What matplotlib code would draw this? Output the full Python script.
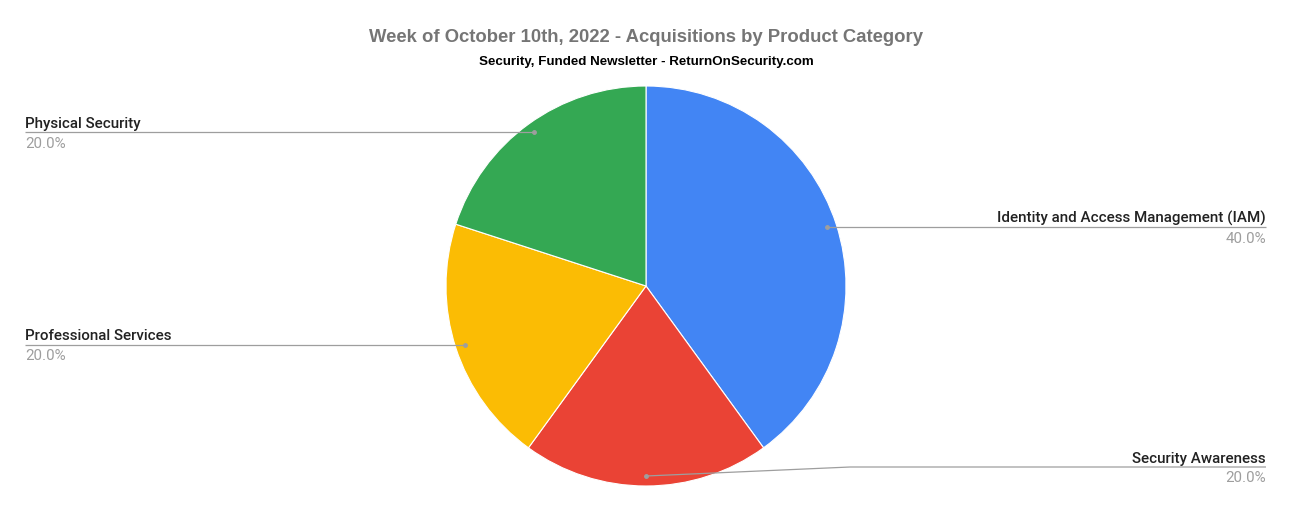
import matplotlib.pyplot as plt
import numpy as np

# data
categories = ['Identity and Access Management (IAM)', 'Security Awareness',
              'Professional Services', 'Physical Security']
counts = [2, 1, 1, 1]
colors = ['#4285F4', '#EA4335', '#FBBC04', '#34A853']

W, H = 1292, 512
cx, cy, R = 646, H - 286, 200

fig = plt.figure(figsize=(W / 100, H / 100), dpi=100)
ax = fig.add_axes([0, 0, 1, 1])

wedges, _ = ax.pie(counts, colors=colors, startangle=90, counterclock=False,
                   center=(cx, cy), radius=R, frame=True,
                   wedgeprops=dict(linewidth=0.8, edgecolor='white'))
ax.set_xlim(0, W)
ax.set_ylim(0, H)
ax.set_aspect('equal')
ax.axis('off')

fig.text(0.5, 1 - 38 / H, 'Week of October 10th, 2022 - Acquisitions by Product Category',
         ha='center', va='center', fontsize=13.3, fontweight='bold',
         color='#757575', family='Liberation Sans')
fig.text(0.5, 1 - 62.5 / H, 'Security, Funded Newsletter - ReturnOnSecurity.com',
         ha='center', va='center', fontsize=9.6, fontweight='bold',
         color='#000000', family='Liberation Sans')

total = sum(counts)
left_x, right_x = 25, 1266
for w, name, n in zip(wedges, categories, counts):
    mid = np.deg2rad((w.theta1 + w.theta2) / 2)
    dx, dy = cx + 0.95 * R * np.cos(mid), cy + 0.95 * R * np.sin(mid)
    if np.cos(mid) < -0.1:
        xs, ys = [dx, left_x], [dy, dy]
        tx, ha = left_x, 'left'
    elif np.sin(mid) < -0.9:
        # bottom slice: bend out to the right
        ly = H - 467
        xs, ys = [dx, 850, right_x], [dy, ly, ly]
        tx, ha = right_x, 'right'
    else:
        xs, ys = [dx, right_x], [dy, dy]
        tx, ha = right_x, 'right'
    ax.plot(xs, ys, color='#9e9e9e', lw=0.9, solid_capstyle='butt')
    ax.plot(dx, dy, 'o', color='#9e9e9e', ms=2.5)
    ax.text(tx, ys[-1] + 1.5, name, ha=ha, va='bottom', fontsize=10.9,
            color='#222222', family='Roboto', fontweight='medium')
    ax.text(tx, ys[-1] - 4.5, '{:.1f}%'.format(100 * n / total), ha=ha, va='top',
            fontsize=10.9, color='#9e9e9e', family='Roboto')

fig.savefig('out.png', dpi=100)
